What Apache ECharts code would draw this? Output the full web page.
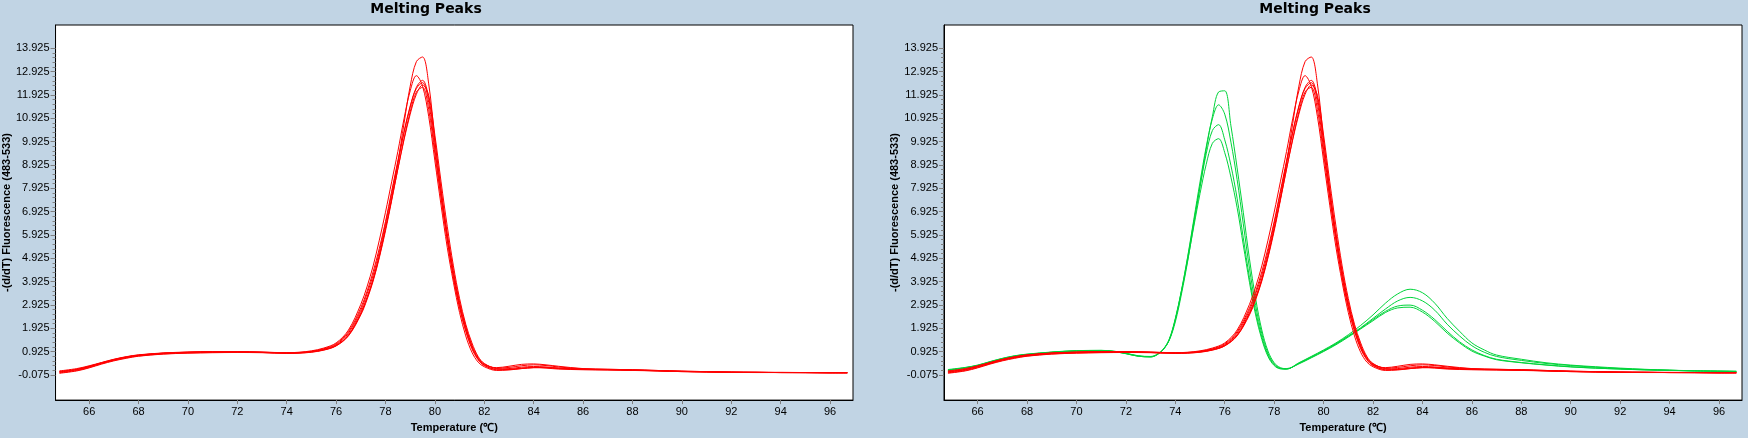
<!DOCTYPE html>
<html>
<head>
<meta charset="utf-8">
<script src="https://cdn.jsdelivr.net/npm/echarts@6/dist/echarts.min.js"></script>
<style>
html,body{margin:0;padding:0;background:#C1D4E4;}
#c{width:1748px;height:438px;}
</style>
</head>
<body>
<div id="c"></div>
<script>
// ---------- data ----------
const yTickLabels = [-0.075, 0.925, 1.925, 2.925, 3.925, 4.925, 5.925, 6.925, 7.925, 8.925, 9.925, 10.925, 11.925, 12.925, 13.925];
const xTickLabels = [66, 68, 70, 72, 74, 76, 78, 80, 82, 84, 86, 88, 90, 92, 94, 96];

// temperatures for the red (upper-Tm) curves
const tempRed = [64.8, 65.5, 66, 66.5, 67, 67.5, 68, 69, 70, 71, 72, 73, 74, 74.5, 75, 75.5, 76, 76.5,
  77, 77.25, 77.5, 77.75, 78, 78.25, 78.5, 78.75, 79, 79.25, 79.5, 79.75, 80, 80.25, 80.5, 80.75,
  81, 81.25, 81.5, 81.75, 82, 82.5, 83, 83.5, 84, 84.5, 85, 86, 87, 88, 89, 90, 91, 92, 93, 94, 95, 96, 96.7];

const red1 = [0.02, 0.12, 0.25, 0.41, 0.55, 0.66, 0.74, 0.83, 0.87, 0.89, 0.9, 0.89, 0.86, 0.87, 0.91, 1.0, 1.18, 1.62,
  2.55, 3.2, 4.0, 5.0, 6.2, 7.5, 9.0, 10.7, 12.3, 13.35, 13.55, 12.4, 10.0, 7.8, 5.9, 4.3,
  2.95, 1.95, 1.15, 0.62, 0.35, 0.15, 0.16, 0.22, 0.25, 0.24, 0.2, 0.16, 0.15, 0.13, 0.1, 0.07, 0.06, 0.04, 0.04, 0.03, 0.03, 0.02, 0.02];
const red2 = [0.08, 0.17, 0.3, 0.45, 0.59, 0.7, 0.78, 0.86, 0.9, 0.92, 0.92, 0.9, 0.88, 0.9, 0.96, 1.08, 1.3, 1.85,
  2.95, 3.7, 4.6, 5.7, 6.9, 8.2, 9.5, 10.9, 12.1, 12.75, 12.3, 11.0, 9.1, 7.2, 5.4, 3.9,
  2.6, 1.6, 0.9, 0.48, 0.28, 0.12, 0.14, 0.2, 0.24, 0.22, 0.18, 0.15, 0.14, 0.12, 0.1, 0.07, 0.05, 0.04, 0.03, 0.03, 0.02, 0.02, 0.02];
const red3 = [0.05, 0.15, 0.28, 0.43, 0.57, 0.68, 0.76, 0.85, 0.89, 0.91, 0.91, 0.89, 0.87, 0.88, 0.93, 1.03, 1.22, 1.72,
  2.7, 3.4, 4.2, 5.2, 6.4, 7.7, 9.0, 10.3, 11.4, 12.25, 12.55, 11.8, 9.9, 7.9, 6.0, 4.4,
  3.05, 2.0, 1.2, 0.68, 0.4, 0.22, 0.25, 0.32, 0.36, 0.33, 0.27, 0.19, 0.17, 0.15, 0.12, 0.09, 0.07, 0.05, 0.04, 0.04, 0.03, 0.03, 0.03];
const red4 = [0.1, 0.2, 0.32, 0.46, 0.6, 0.71, 0.79, 0.87, 0.91, 0.93, 0.93, 0.91, 0.88, 0.89, 0.94, 1.05, 1.26, 1.78,
  2.8, 3.5, 4.35, 5.35, 6.5, 7.8, 9.1, 10.35, 11.45, 12.2, 12.45, 11.6, 9.6, 7.6, 5.75, 4.15,
  2.85, 1.85, 1.1, 0.62, 0.37, 0.24, 0.3, 0.38, 0.4, 0.36, 0.3, 0.2, 0.17, 0.15, 0.12, 0.09, 0.07, 0.05, 0.04, 0.03, 0.03, 0.02, 0.02];
const red5 = [0.0, 0.1, 0.23, 0.39, 0.53, 0.64, 0.73, 0.82, 0.86, 0.88, 0.89, 0.88, 0.85, 0.86, 0.9, 0.99, 1.17, 1.6,
  2.5, 3.15, 3.95, 4.95, 6.1, 7.4, 8.75, 10.05, 11.2, 12.05, 12.25, 11.3, 9.4, 7.5, 5.7, 4.1,
  2.8, 1.8, 1.05, 0.58, 0.33, 0.18, 0.2, 0.26, 0.29, 0.27, 0.22, 0.17, 0.15, 0.13, 0.11, 0.08, 0.06, 0.04, 0.04, 0.03, 0.03, 0.02, 0.02];
const red6 = [0.06, 0.16, 0.29, 0.44, 0.58, 0.69, 0.77, 0.86, 0.9, 0.92, 0.92, 0.9, 0.87, 0.88, 0.92, 1.01, 1.19, 1.65,
  2.6, 3.25, 4.05, 5.05, 6.2, 7.45, 8.75, 10.0, 11.1, 11.95, 12.35, 11.9, 10.2, 8.2, 6.3, 4.6,
  3.2, 2.1, 1.3, 0.72, 0.42, 0.2, 0.17, 0.2, 0.24, 0.25, 0.22, 0.18, 0.16, 0.14, 0.11, 0.08, 0.06, 0.05, 0.04, 0.03, 0.03, 0.02, 0.02];

// temperatures for the green (two-peak) curves, right panel only
const tempGreen = [64.8, 65.5, 66, 66.5, 67, 67.5, 68, 69, 70, 71, 71.5, 72, 72.5, 73, 73.25, 73.5, 73.75,
  74, 74.25, 74.5, 74.75, 75, 75.25, 75.5, 75.75, 76, 76.25, 76.5, 76.75, 77, 77.25, 77.5, 77.75,
  78, 78.25, 78.5, 79, 79.5, 80, 80.5, 81, 81.5, 82, 82.5, 83, 83.5, 84, 84.5, 85, 85.5, 86, 86.5, 87,
  88, 89, 90, 91, 92, 93, 94, 95, 96.7];

const green1 = [0.14, 0.24, 0.34, 0.49, 0.63, 0.74, 0.81, 0.9, 0.96, 0.98, 0.95, 0.86, 0.75, 0.72, 0.8, 1.0, 1.4,
  2.2, 3.4, 4.8, 6.4, 8.0, 9.6, 11.0, 12.05, 12.1, 10.6, 8.8, 6.9, 4.9, 3.2, 1.85, 0.95,
  0.45, 0.24, 0.2, 0.4, 0.66, 0.93, 1.22, 1.55, 1.9, 2.25, 2.6, 2.8, 2.83, 2.62, 2.22, 1.72, 1.3, 0.95, 0.74, 0.58,
  0.45, 0.35, 0.27, 0.22, 0.18, 0.14, 0.12, 0.1, 0.08];
const green2 = [0.12, 0.22, 0.32, 0.47, 0.61, 0.72, 0.79, 0.89, 0.95, 0.97, 0.93, 0.84, 0.73, 0.7, 0.78, 1.0, 1.42,
  2.3, 3.55, 5.0, 6.6, 8.2, 9.7, 10.9, 11.5, 11.1, 9.9, 8.3, 6.4, 4.5, 2.9, 1.7, 0.85,
  0.4, 0.22, 0.19, 0.42, 0.68, 0.95, 1.25, 1.58, 1.92, 2.3, 2.65, 2.88, 2.92, 2.7, 2.3, 1.8, 1.35, 1.0, 0.76, 0.6,
  0.46, 0.36, 0.28, 0.22, 0.18, 0.15, 0.13, 0.1, 0.08];
const green3 = [0.16, 0.25, 0.35, 0.5, 0.64, 0.75, 0.82, 0.91, 0.97, 0.98, 0.94, 0.85, 0.74, 0.71, 0.8, 1.02, 1.45,
  2.35, 3.55, 4.95, 6.5, 8.0, 9.4, 10.4, 10.65, 10.0, 8.9, 7.5, 5.8, 4.1, 2.65, 1.55, 0.78,
  0.36, 0.2, 0.18, 0.43, 0.7, 0.97, 1.27, 1.6, 1.95, 2.35, 2.75, 3.1, 3.25, 3.1, 2.7, 2.1, 1.6, 1.18, 0.9, 0.72,
  0.55, 0.42, 0.33, 0.26, 0.2, 0.16, 0.13, 0.11, 0.08];
const green4 = [0.13, 0.23, 0.33, 0.48, 0.62, 0.73, 0.8, 0.9, 0.96, 0.97, 0.93, 0.84, 0.73, 0.7, 0.79, 1.0, 1.43,
  2.3, 3.5, 4.85, 6.3, 7.7, 8.95, 9.85, 10.05, 9.45, 8.4, 7.1, 5.5, 3.9, 2.5, 1.45, 0.72,
  0.33, 0.19, 0.18, 0.45, 0.72, 1.0, 1.3, 1.65, 2.05, 2.5, 3.0, 3.4, 3.6, 3.45, 3.0, 2.35, 1.8, 1.3, 1.0, 0.78,
  0.6, 0.45, 0.35, 0.28, 0.22, 0.17, 0.13, 0.1, 0.08];

const redCurves = [red1, red2, red3, red4, red5, red6];
const greenCurves = [green1, green2, green3, green4];

// ---------- chart ----------
const FONT = '"Liberation Sans", Arial, sans-serif';
const RED = '#FF0000';
const GREEN = '#00D43A';

const minorTicks = [];
for (let i = 0; i < yTickLabels.length - 1; i++) {
  for (let k = 1; k <= 4; k++) minorTicks.push(Math.round((yTickLabels[i] + 0.2 * k) * 1000) / 1000);
}

const X_MIN = 64.64, X_MAX = 96.93, Y_MIN = -1.15, Y_MAX = 14.92;

const grids = [
  { left: 55, right: 895, top: 25, bottom: 33 },
  { left: 944, right: 6, top: 25, bottom: 33 }
].map(g => Object.assign(g, { show: true, backgroundColor: '#FFFFFF', borderColor: '#000000', borderWidth: 1, containLabel: false }));

function xAxisFor(gi) {
  return {
    gridIndex: gi, type: 'value', min: X_MIN, max: X_MAX,
    name: 'Temperature (℃)', nameLocation: 'middle', nameGap: 19,
    nameTextStyle: { fontFamily: FONT, fontWeight: 'bold', fontSize: 11, color: '#000' },
    axisLine: { show: true, onZero: false, lineStyle: { color: '#000', width: 1 } },
    axisTick: { show: true, customValues: xTickLabels, length: 4, lineStyle: { color: '#808080' } },
    axisLabel: { customValues: xTickLabels, fontFamily: FONT, fontSize: 11, color: '#000', margin: 6 },
    splitLine: { show: false }
  };
}
function yAxisMajor(gi) {
  return {
    gridIndex: gi, type: 'value', min: Y_MIN, max: Y_MAX,
    name: '-(d/dT) Fluorescence (483-533)', nameLocation: 'middle', nameGap: 38, nameRotate: 90,
    nameTextStyle: { fontFamily: FONT, fontWeight: 'bold', fontSize: 11, color: '#000' },
    axisLine: { show: true, onZero: false, lineStyle: { color: '#000', width: 1 } },
    axisTick: { show: true, customValues: yTickLabels, length: 5, lineStyle: { color: '#808080' } },
    axisLabel: { customValues: yTickLabels, fontFamily: FONT, fontSize: 11, color: '#000', margin: 6 },
    splitLine: { show: false }
  };
}
function yAxisMinor(gi) {
  return {
    gridIndex: gi, type: 'value', min: Y_MIN, max: Y_MAX, position: 'left',
    axisLine: { show: false },
    axisTick: { show: true, customValues: minorTicks, length: 3, lineStyle: { color: '#808080' } },
    axisLabel: { show: false },
    splitLine: { show: false }
  };
}

function lineSeries(temps, vals, color, xi, yi) {
  return {
    type: 'line', xAxisIndex: xi, yAxisIndex: yi,
    data: temps.map((t, i) => [t, vals[i]]),
    showSymbol: false, smooth: 0.35, clip: true,
    lineStyle: { color: color, width: 1 },
    emphasis: { disabled: true }, silent: true
  };
}

const series = [];
redCurves.forEach(c => series.push(lineSeries(tempRed, c, RED, 0, 0)));
greenCurves.forEach(c => series.push(lineSeries(tempGreen, c, GREEN, 1, 2)));
redCurves.forEach(c => series.push(lineSeries(tempRed, c, RED, 1, 2)));

const chart = echarts.init(document.getElementById('c'), null, { renderer: 'canvas' });
chart.setOption({
  backgroundColor: '#C1D4E4',
  animation: false,
  grid: grids,
  xAxis: [xAxisFor(0), xAxisFor(1)],
  yAxis: [yAxisMajor(0), yAxisMinor(0), yAxisMajor(1), yAxisMinor(1)],
  graphic: [
    { type: 'text', x: 426, y: 9, style: { text: 'Melting Peaks', align: 'center', verticalAlign: 'middle', font: 'bold 14px "DejaVu Sans", sans-serif', fill: '#000' } },
    { type: 'text', x: 1315, y: 9, style: { text: 'Melting Peaks', align: 'center', verticalAlign: 'middle', font: 'bold 14px "DejaVu Sans", sans-serif', fill: '#000' } }
  ],
  series: series
});
</script>
</body>
</html>
